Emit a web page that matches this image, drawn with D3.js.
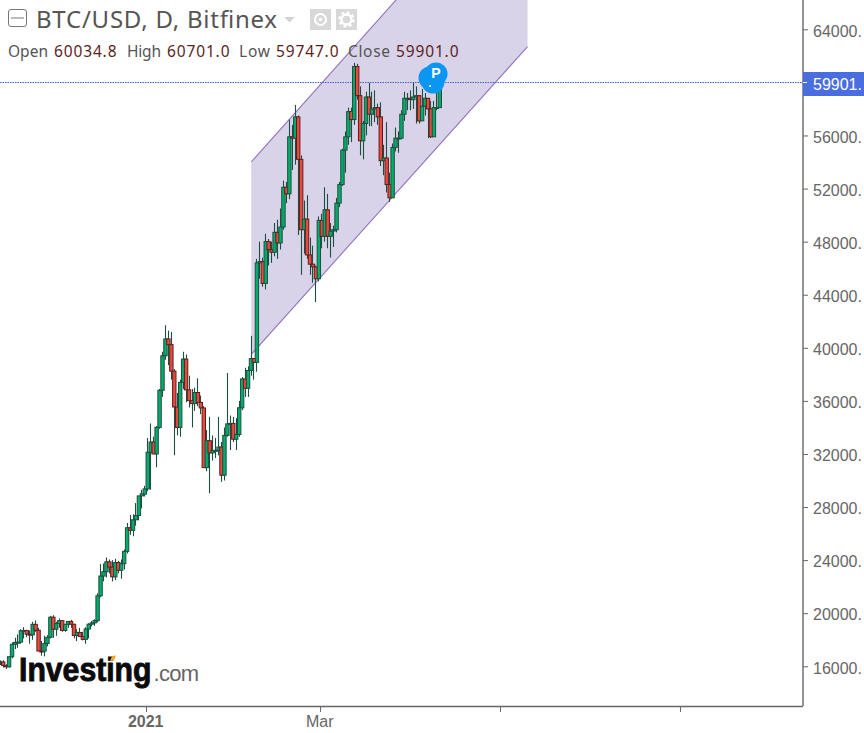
<!DOCTYPE html>
<html><head><meta charset="utf-8">
<script src="https://cdn.jsdelivr.net/npm/d3@7"></script>
<style>html,body{margin:0;padding:0;background:#fff;overflow:hidden}svg{display:block}</style>
</head><body><svg id="c" width="864" height="733"></svg>
<script>
const startDate = "2020-11-12";
const opens = [
16200,16300,16330,16070,15960,16720,17660,17800,17820,18680,18700,18420,18370,19160,18720,17150,17140,17720,18180,
19700,18800,19220,19440,18700,19160,19380,19170,18320,18550,18250,18030,18810,19170,19270,19440,21310,22800,23130,23870,23480,22740,23820,23240,23730,24660,26440,26250,27040,27360,28840,
28970,29370,32130,32900,32000,34000,36800,39400,40670,40240,38240,35540,34000,37390,39150,36830,36020,35790,36630,35890,35470,30970,33000,32080,32270,32270,32520,30400,33400,34270,34300,
33110,33470,35480,37650,36950,38290,39190,38900,46400,46500,44850,48000,47400,47200,48700,47900,49100,52100,51600,55900,55800,57400,54200,48900,49700,47000,46300,46100,
45200,49600,48400,50400,48400,48800,48900,50900,52300,54900,55900,57800,57200,61200,59000,55600,56900,58900,57600,58000,58100,57400,54100,54300,52300,51300,55100,55800,55800,57600,58800,
58800,58700,58900,59000,57100,58200,58800,58000,55900,58100,58100];
const closes = [
16300,16330,16070,15960,16720,17660,17800,17820,18680,18700,18420,18370,19160,18720,17150,17140,17720,18180,19700,
18800,19220,19440,18700,19160,19380,19170,18320,18550,18250,18030,18810,19170,19270,19440,21310,22800,23130,23870,23480,22740,23820,23240,23730,24660,26440,26250,27040,27360,28840,29000,
29370,32130,32900,32000,34000,36800,39400,40670,40240,38240,35540,34000,37390,39150,36830,36020,35790,36630,35890,35470,30970,33000,32080,32270,32270,32520,30400,33400,34270,34300,33110,
33470,35480,37650,36950,38290,39190,38900,46400,46500,44850,48000,47400,47200,48700,47900,49100,52100,51600,55900,55800,57400,54200,48900,49700,47000,46300,46100,45200,
49600,48400,50400,48400,48800,48900,50900,52300,54900,55900,57800,57200,61200,59000,55600,56900,58900,57600,58000,58100,57400,54100,54300,52300,51300,55100,55800,55800,57600,58800,58800,
58700,58900,59000,57100,58200,58800,58000,55900,58100,58100,59900];
const highs = [
16400,16450,16450,16150,16750,17800,18150,18400,18800,18950,18750,18700,19350,19450,18900,17900,18300,18350,19800,
19850,19350,19600,19450,19200,19400,19500,19200,18800,18900,18600,18950,19250,19400,19550,21500,23700,23750,24200,24050,24000,24100,23950,24050,24800,26800,27400,27450,28300,28800,29300,
29600,33200,34300,33300,34100,36900,39700,41700,41300,41200,38400,36600,37600,39700,39500,37900,36900,37000,37700,36400,35600,33800,34800,33400,33200,34800,32900,34000,38100,34900,34800,
34700,36000,37800,38500,38600,40900,39000,46700,48000,46800,48600,48200,48000,49400,49650,50500,52600,52500,57200,56800,58300,57500,54500,51100,51500,48300,47700,46200,
49900,50100,52100,51600,49400,49200,51300,52500,55000,56300,58100,58100,61470,61400,59700,57100,59300,59960,59300,59400,58400,58500,55300,57000,53200,55400,56600,56300,57900,59300,59200,
59400,60000,59700,58500,59500,59200,58300,58600,58600,60600];
const lows = [
15900,16100,15900,15800,15900,16600,17300,17400,17700,18100,18200,17700,18000,18600,18500,16800,16750,17500,18100,
18150,18300,18900,18600,18600,18900,18900,18100,17900,18300,17950,17700,18100,19000,19050,19300,21200,22400,22700,23000,22400,22500,23000,22600,23300,24500,25900,25800,26600,27000,27900,
28800,29200,29300,32000,31000,33900,36300,39100,38700,37600,31900,33400,33300,36900,35900,35500,34000,35250,35600,35000,33400,30700,29040,31500,31700,31900,29900,30000,33300,32300,32900,
32300,33300,35300,36300,36300,37900,37600,38200,45200,44600,44400,46200,46400,46900,46700,47400,48900,50900,51200,53400,53800,48500,45500,47100,46700,45500,44900,43450,
45000,47500,48000,47500,46800,47600,48700,50600,52200,53200,55300,55500,56800,58700,54500,54200,56000,56700,56700,57000,56800,53700,53000,51700,51000,51300,54800,54700,55700,57100,57900,
57900,58000,56900,56900,57700,57500,55800,55800,57000,57900];
const yTickValues = [64000,56000,52000,48000,44000,40000,36000,32000,28000,24000,20000,16000];
const yTickLabels = ["64000.","56000.","52000.","48000.","44000.","40000.","36000.","32000.","28000.","24000.","20000.","16000."];
const xTickDates = ["2021-01-01T14:00Z","2021-03-01T14:00Z","2021-05-01T14:00Z","2021-07-01T14:00Z"];
const xTickLabels = ["2021","Mar","",""];
const lastPrice = 59901, lastPriceLabel = "59901.";
const channelUpper = [["2021-02-06T06:00Z",54000],["2021-05-10T22:00Z",77300]];
const channelLower = [["2021-02-06T06:00Z",39500],["2021-05-10T22:00Z",62700]];
const titleText = "BTC/USD, D, Bitfinex";
const ohlcLabels = ["Open","High","Low","Close"];
const ohlcValues = ["60034.8","60701.0","59747.0","59901.0"];

const W=864,H=733,axisX=803,axisY=706;
const svg=d3.select("#c");
const msDay=864e5, jan1=Date.UTC(2021,0,1);
const x=d3.scaleUtc().domain([new Date(jan1),new Date(jan1+msDay*100)]).range([144.3,439.3]);
const y=d3.scaleLinear().domain([64000,16000]).range([29.3,666.3]);
const start=new Date(startDate+"T00:00Z");
const candles=closes.map((c,i)=>({date:new Date(+start+i*msDay),o:opens[i],h:highs[i],l:lows[i],c}));

const defs=svg.append("defs");
defs.append("clipPath").attr("id","plot").append("rect").attr("x",0).attr("y",0).attr("width",axisX).attr("height",axisY);
defs.append("filter").attr("id","soft").attr("x","-5%").attr("y","-5%").attr("width","110%").attr("height","110%")
  .append("feGaussianBlur").attr("stdDeviation",0.3);

const plot=svg.append("g").attr("clip-path","url(#plot)");
const cu=channelUpper.map(d=>[x(new Date(d[0])),y(d[1])]), cl=channelLower.map(d=>[x(new Date(d[0])),y(d[1])]);
plot.append("path").attr("d",d3.line()([cu[0],cu[1],cl[1],cl[0]])+"Z").attr("fill","#d8d3e8");
[cu,cl].forEach(s=>plot.append("path").attr("d",d3.line()(s)).attr("fill","none").attr("stroke","#9473bd").attr("stroke-width",1.1));
const priceY=Math.floor(y(lastPrice))-0.5;
plot.append("line").attr("x1",0).attr("x2",axisX).attr("y1",priceY).attr("y2",priceY)
  .attr("stroke","#3f62d8").attr("stroke-width",1).attr("stroke-dasharray","1.5 1");
const cg=plot.append("g").attr("filter","url(#soft)");
const g=cg.selectAll("g").data(candles).join("g");
g.append("line").attr("x1",d=>Math.round(x(d.date))+.5).attr("x2",d=>Math.round(x(d.date))+.5).attr("y1",d=>y(d.h)).attr("y2",d=>y(d.l))
  .attr("stroke","#1f5040").attr("stroke-width",1.1);
g.append("rect").attr("x",d=>x(d.date)-1.2).attr("width",3.4)
  .attr("y",d=>y(Math.max(d.o,d.c))).attr("height",d=>Math.max(1,Math.abs(y(d.o)-y(d.c))))
  .attr("fill",d=>d.c>=d.o?"#00ad6c":"#ea4a3e").attr("stroke",d=>d.c>=d.o?"#1e4f40":"#5c1f1f").attr("stroke-width",1);
const marker=plot.append("g");
[[430,78],[433,82],[436,74]].forEach(p=>marker.append("circle").attr("cx",p[0]).attr("cy",p[1]).attr("r",11.5).attr("fill","#0b96f3"));
marker.append("circle").attr("cx",430).attr("cy",86).attr("r",1).attr("fill","#fff");
marker.append("text").attr("x",436).attr("y",78).attr("text-anchor","middle").attr("fill","#fff")
  .style("font","bold 14px 'Liberation Sans'").text("P");

const fY=d3.axisRight(y).tickValues(yTickValues).tickFormat((d,i)=>yTickLabels[i]).tickSize(5).tickPadding(5);
const ay=svg.append("g").attr("transform",`translate(${axisX},0)`).call(fY);
ay.select(".domain").remove();
ay.append("line").attr("x1",0).attr("x2",0).attr("y1",0).attr("y2",axisY).attr("stroke","#666").attr("stroke-width",1.4);
ay.selectAll(".tick line").attr("stroke","#666");
ay.selectAll("text").attr("fill","#666").attr("dy","0.42em").style("font","16px 'Liberation Sans'");
const fX=d3.axisBottom(x).tickValues(xTickDates.map(d=>new Date(d))).tickFormat((d,i)=>xTickLabels[i]).tickSize(6).tickPadding(4);
const ax=svg.append("g").attr("transform",`translate(0,${axisY})`).call(fX);
ax.select(".domain").remove();
ax.append("line").attr("x1",0).attr("x2",axisX).attr("y1",0.5).attr("y2",0.5).attr("stroke","#666").attr("stroke-width",1.4);
ax.selectAll(".tick line").attr("stroke","#666");
ax.selectAll(".tick text").attr("fill","#666").attr("dx",-0.8).style("font",(d,i)=>i==0?"bold 16px 'Liberation Sans'":"16px 'Liberation Sans'");
svg.append("rect").attr("x",axisX).attr("y",72).attr("width",W-axisX).attr("height",24).attr("fill","#4a6de0");
svg.append("line").attr("x1",axisX).attr("x2",axisX+4).attr("y1",priceY).attr("y2",priceY).attr("stroke","#fff");
svg.append("text").attr("x",813).attr("y",90).attr("fill","#fff").style("font","16px 'Liberation Sans'").text(lastPriceLabel);

svg.append("rect").attr("x",8.5).attr("y",9.5).attr("width",18).attr("height",17).attr("rx",2.5).attr("fill","#fff").attr("stroke","#777");
svg.append("line").attr("x1",11).attr("x2",24).attr("y1",18).attr("y2",18).attr("stroke","#777");
svg.append("text").attr("x",36).attr("y",28).attr("fill","#555").attr("textLength",241).attr("lengthAdjust","spacing")
  .style("font","24px 'Noto Sans'").text(titleText);
svg.append("path").attr("d","M284 17h11l-5.5 5.5z").attr("fill","#d4d4d4");
svg.append("rect").attr("x",310).attr("y",9).attr("width",21).attr("height",21).attr("fill","#d8d8d8");
svg.append("circle").attr("cx",320.5).attr("cy",19.5).attr("r",5.5).attr("fill","none").attr("stroke","#fff").attr("stroke-width",2);
svg.append("circle").attr("cx",320.5).attr("cy",19.5).attr("r",1.8).attr("fill","#fff");
svg.append("rect").attr("x",336).attr("y",9).attr("width",21).attr("height",21).attr("fill","#d8d8d8");
svg.append("circle").attr("cx",346.5).attr("cy",19.5).attr("r",5).attr("fill","none").attr("stroke","#fff").attr("stroke-width",2.4);
svg.append("circle").attr("cx",346.5).attr("cy",19.5).attr("r",7).attr("fill","none").attr("stroke","#fff").attr("stroke-width",2.4).attr("stroke-dasharray","2.9 2.6");
const labelPos=[[8,40],[127,34],[239,31],[348,42]], valuePos=[54,167,276,396];
ohlcLabels.forEach((t,i)=>{
  svg.append("text").attr("x",labelPos[i][0]).attr("y",56.5).attr("fill","#555").attr("textLength",labelPos[i][1]).style("font","15.5px 'Noto Sans'").text(t);
  svg.append("text").attr("x",valuePos[i]).attr("y",56.5).attr("fill","#5c1f1f").attr("textLength",62.5).style("font","15.5px 'Noto Sans'").text(ohlcValues[i]);
});
const logo=svg.append("g");
logo.append("text").attr("transform","translate(19,681) scale(0.915,1)").attr("fill","#0b0b0b").attr("stroke","#0b0b0b").attr("stroke-width",.9)
  .style("font","bold 33px 'Liberation Sans'").text("Investing");
logo.append("text").attr("x",153.5).attr("y",681).attr("fill","#666").attr("textLength",45.5).style("font","22px 'Liberation Sans'").text(".com");
logo.append("path").attr("d","M110 661l2-5 4-.5-2 5z").attr("fill","#f5a623");
</script></body></html>
